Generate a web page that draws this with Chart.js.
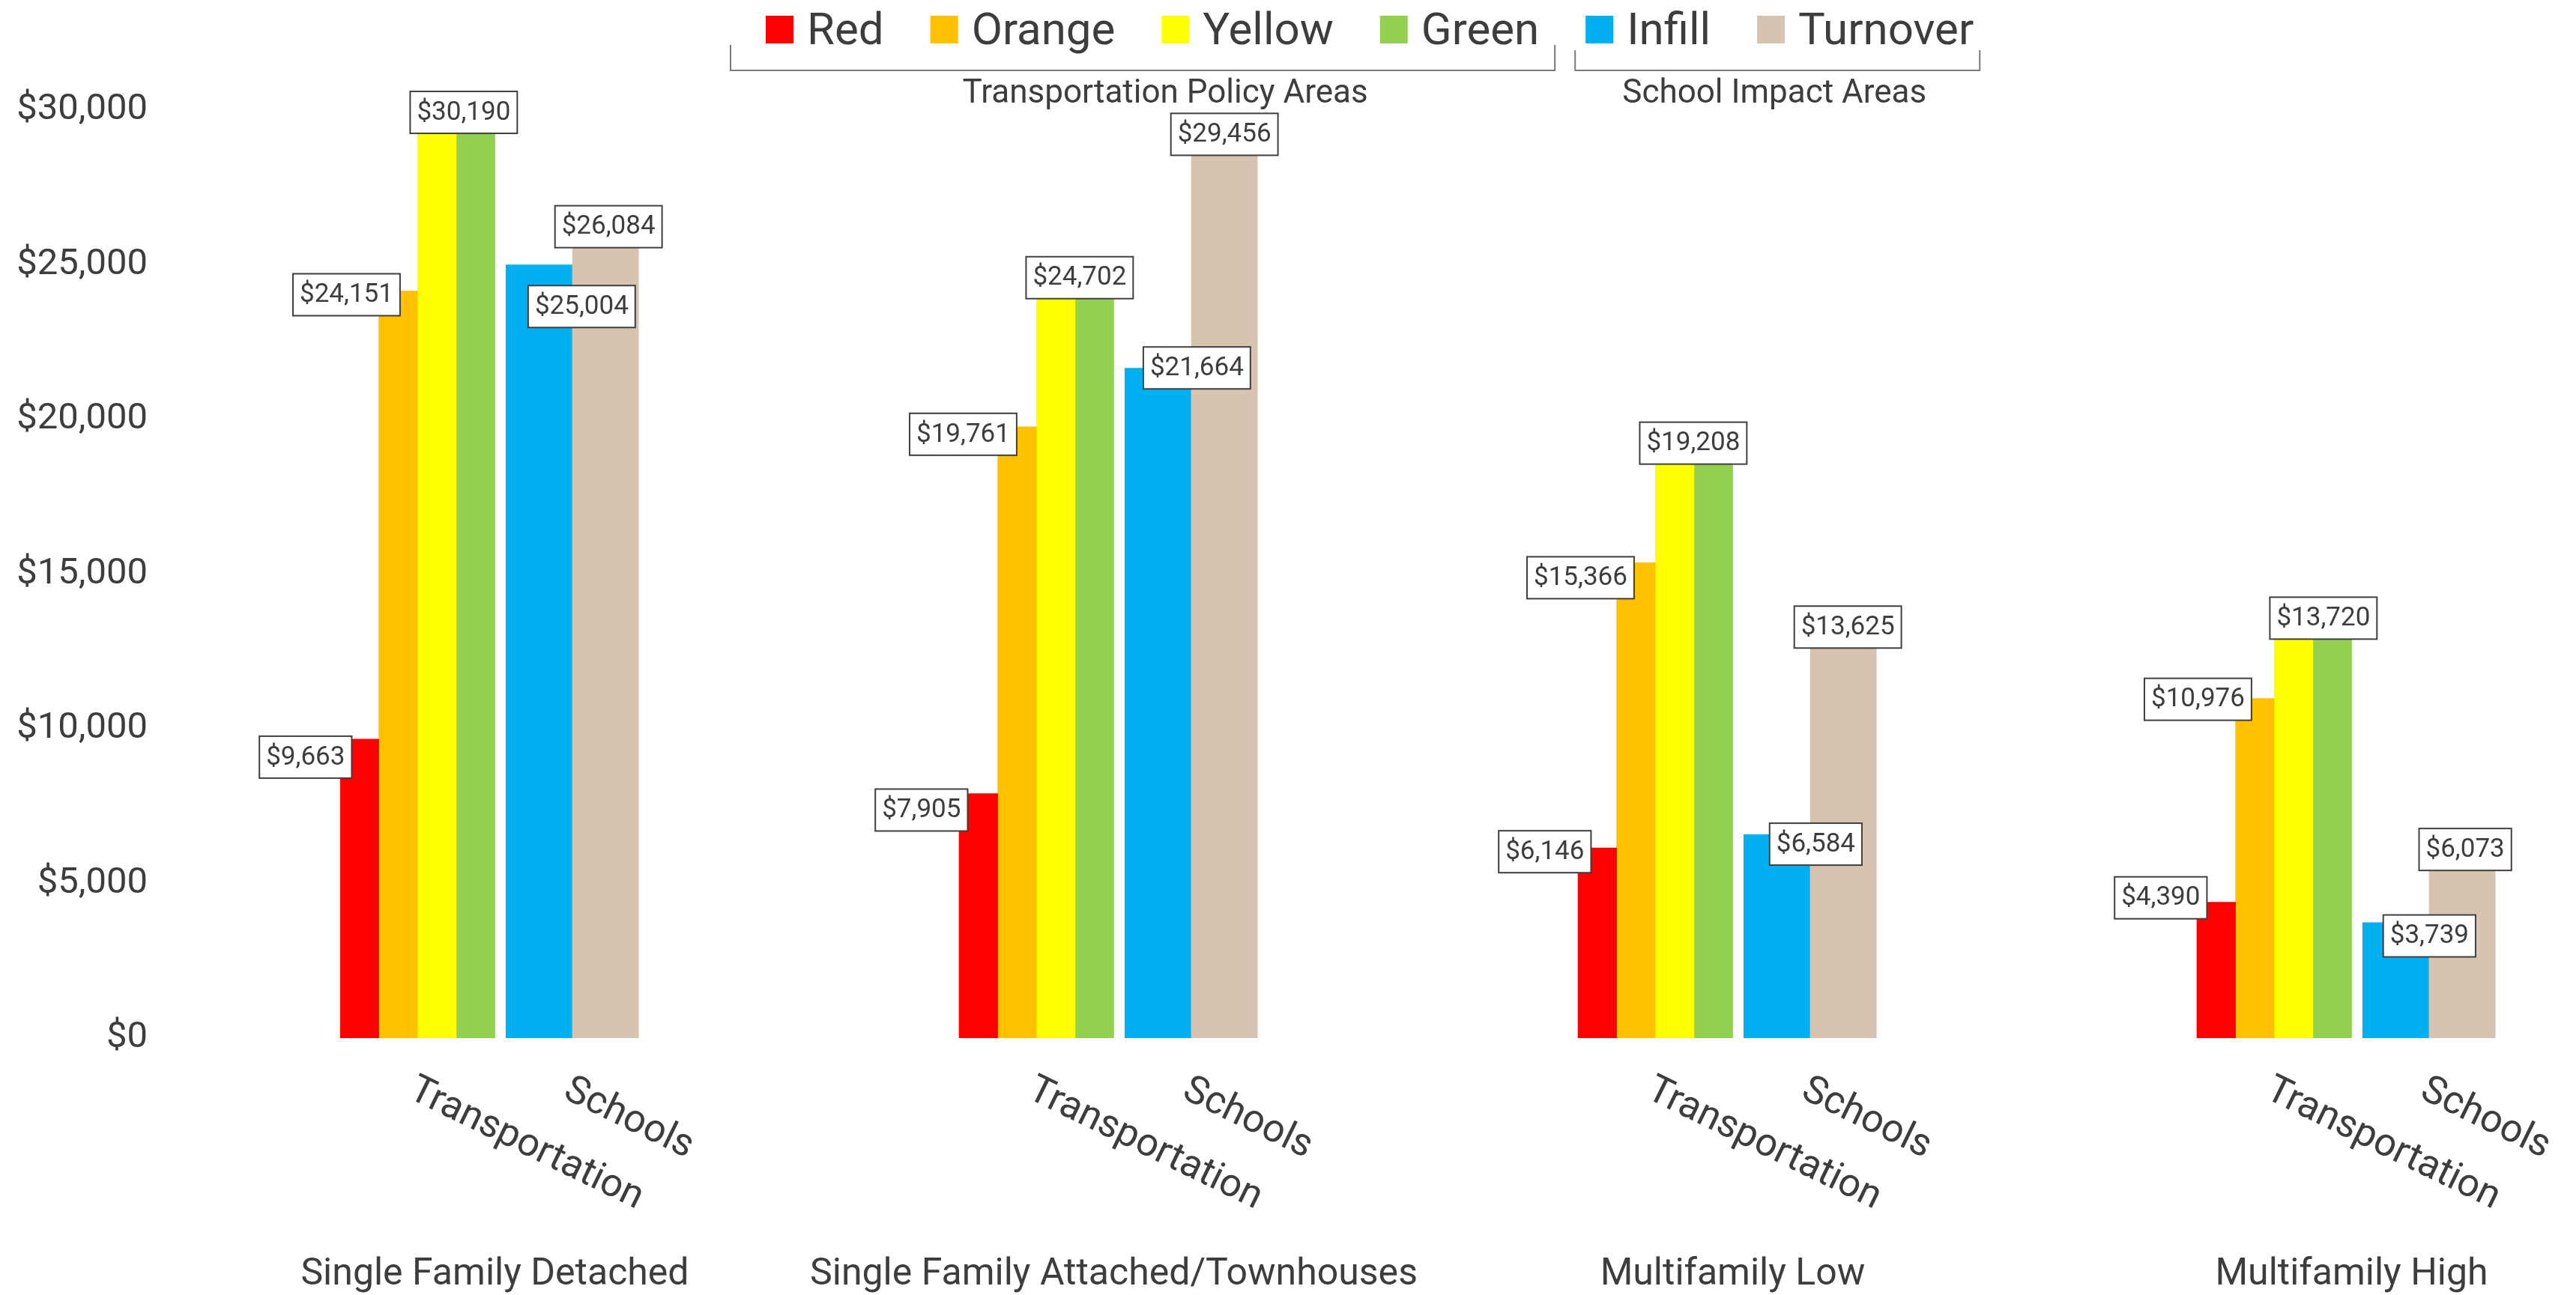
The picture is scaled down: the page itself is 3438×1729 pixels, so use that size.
<!DOCTYPE html>
<html>
<head>
<meta charset="utf-8">
<title>Impact Tax per Unit by Housing Type</title>
<script src="https://cdn.jsdelivr.net/npm/chart.js@4/dist/chart.umd.min.js"></script>
<style>
  html, body { margin: 0; padding: 0; background: #ffffff; }
  canvas { display: block; }
</style>
</head>
<body>
<canvas id="chart" width="3438" height="1729"></canvas>
<script>
// ---- Data -------------------------------------------------------------
// Outer categories (housing types) and the two tax components under each
const housingTypes = ['Single Family Detached', 'Single Family Attached/Townhouses', 'Multifamily Low', 'Multifamily High'];
const components = ['Transportation', 'Schools'];

// Transportation impact tax per unit, by transportation policy area
const red    = [9663, 7905, 6146, 4390];
const orange = [24151, 19761, 15366, 10976];
const yellow = [30190, 24702, 19208, 13720];
const green  = [30190, 24702, 19208, 13720];

// School impact tax per unit, by school impact area
const infill   = [25004, 21664, 6584, 3739];
const turnover = [26084, 29456, 13625, 6073];

// Value axis ticks
const yTickValues = [0, 5000, 10000, 15000, 20000, 25000, 30000];
const yAxisMax = 33000;

// ---- Styling ----------------------------------------------------------
const FONT = 'Roboto';
const TEXT = '#3d3d3d';
const LINE = '#7a7a7a';

// Each housing type takes four category slots: Transportation, Schools, then two empty slots as a gap
const SLOTS_PER_GROUP = 4;
const slotLabels = [];
housingTypes.forEach((h, k) => {
  slotLabels.push(components[0], components[1]);
  if (k < housingTypes.length - 1) slotLabels.push('', '');
});
function placeInSlots(values, slot) {
  const arr = new Array(slotLabels.length).fill(null);
  values.forEach((v, k) => { arr[k * SLOTS_PER_GROUP + slot] = v; });
  return arr;
}

const seriesDefs = [
  { label: 'Red',      values: red,      color: '#FF0000', slot: 0, pct: 1.0 },
  { label: 'Orange',   values: orange,   color: '#FFC000', slot: 0, pct: 1.0 },
  { label: 'Yellow',   values: yellow,   color: '#FFFF00', slot: 0, pct: 1.0 },
  { label: 'Green',    values: green,    color: '#92D050', slot: 0, pct: 1.0 },
  { label: 'Infill',   values: infill,   color: '#00B0F0', slot: 1, pct: 0.86 },
  { label: 'Turnover', values: turnover, color: '#D6C3B0', slot: 1, pct: 0.86 }
];

// Hand placement of the value boxes: [dx, dy] of the box centre from the bar's top-centre
const labelNudge = {
  red:      [[-72, 24], [-76, 22], [-70, 5], [-74, -6]],
  orange:   [[-69, 5], [-72, 10], [-74, 20], [-76, 1]],
  yg:       [[10, 11], [6, 5], [-1, -1], [14, 6]],
  infill:   [[57, 56], [52, 0], [52, 13], [45, 18]],
  turnover: [[4, -6], [0, 10], [6, 14], [4, -1]]
};

const money = v => '$' + v.toLocaleString('en-US');

// ---- Value boxes on the bars -------------------------------------------
const valueBoxes = {
  id: 'valueBoxes',
  afterDatasetsDraw(chart) {
    const ctx = chart.ctx;
    const bar = (ds, k, slot) => chart.getDatasetMeta(ds).data[k * SLOTS_PER_GROUP + slot];
    ctx.save();
    ctx.font = `35px ${FONT}`;
    ctx.textAlign = 'center';
    ctx.textBaseline = 'middle';
    housingTypes.forEach((h, k) => {
      const r = bar(0, k, 0), o = bar(1, k, 0), y = bar(2, k, 0), g = bar(3, k, 0);
      const inf = bar(4, k, 1), t = bar(5, k, 1);
      const items = [
        { x: r.x, y: r.y, text: money(red[k]), n: labelNudge.red[k] },
        { x: o.x, y: o.y, text: money(orange[k]), n: labelNudge.orange[k] },
        { x: (y.x + g.x) / 2, y: Math.min(y.y, g.y), text: money(yellow[k]), n: labelNudge.yg[k] },
        { x: t.x, y: t.y, text: money(turnover[k]), n: labelNudge.turnover[k] },
        { x: inf.x, y: inf.y, text: money(infill[k]), n: labelNudge.infill[k] }
      ];
      items.forEach(it => {
        const w = ctx.measureText(it.text).width + 18;
        const hgt = 56;
        const cx = it.x + it.n[0];
        const cy = it.y + it.n[1];
        ctx.fillStyle = '#ffffff';
        ctx.fillRect(cx - w / 2, cy - hgt / 2, w, hgt);
        ctx.strokeStyle = '#404040';
        ctx.lineWidth = 2;
        ctx.strokeRect(cx - w / 2, cy - hgt / 2, w, hgt);
        ctx.fillStyle = TEXT;
        ctx.fillText(it.text, cx, cy + 1);
      });
    });
    ctx.restore();
  }
};

// ---- Category labels: slanted component names and housing-type names ----
const categoryLabels = {
  id: 'categoryLabels',
  afterDraw(chart) {
    const ctx = chart.ctx;
    const xs = chart.scales.x;
    const bottom = chart.chartArea.bottom;
    const angle = 26 * Math.PI / 180;
    ctx.save();
    ctx.fillStyle = TEXT;
    housingTypes.forEach((h, k) => {
      const tX = xs.getPixelForValue(k * SLOTS_PER_GROUP);
      const sX = xs.getPixelForValue(k * SLOTS_PER_GROUP + 1);
      [[tX, components[0]], [sX, components[1]]].forEach(([px, txt]) => {
        ctx.save();
        ctx.translate(px + 3, bottom + 44);
        ctx.rotate(angle);
        ctx.font = `52px ${FONT}`;
        ctx.textAlign = 'left';
        ctx.textBaseline = 'top';
        ctx.fillText(txt, 0, 0);
        ctx.restore();
      });
      ctx.font = `50px ${FONT}`;
      ctx.textAlign = 'center';
      ctx.textBaseline = 'alphabetic';
      ctx.fillText(h, (tX + sX) / 2, bottom + 329);
    });
    ctx.restore();
  }
};

// ---- Legend with the two area brackets --------------------------------
const areaLegend = {
  id: 'areaLegend',
  afterDraw(chart) {
    const ctx = chart.ctx;
    const box = 37, gapText = 18, gapItem = 62;
    const boxTop = 21, textBase = 59;
    ctx.save();
    ctx.font = `60px ${FONT}`;
    ctx.textBaseline = 'alphabetic';
    ctx.textAlign = 'left';
    let x = 1022;
    const pos = [];
    seriesDefs.forEach(s => {
      const w = ctx.measureText(s.label).width;
      ctx.fillStyle = s.color;
      ctx.fillRect(x, boxTop, box, box);
      ctx.fillStyle = TEXT;
      ctx.fillText(s.label, x + box + gapText, textBase);
      pos.push({ start: x, end: x + box + gapText + w });
      x += box + gapText + w + gapItem;
    });

    const bracket = (l, r, top, bottomY) => {
      ctx.beginPath();
      ctx.moveTo(l, top);
      ctx.lineTo(l, bottomY);
      ctx.lineTo(r, bottomY);
      ctx.lineTo(r, top);
      ctx.stroke();
    };
    ctx.strokeStyle = LINE;
    ctx.lineWidth = 2;
    const b1l = pos[0].start - 47, b1r = pos[3].end + 21;
    const b2l = pos[4].start - 14, b2r = pos[5].end + 8;
    bracket(b1l, b1r, 60, 94);
    bracket(b2l, b2r, 67, 94);

    ctx.font = `44px ${FONT}`;
    ctx.textAlign = 'center';
    ctx.fillStyle = TEXT;
    ctx.fillText('Transportation Policy Areas', (b1l + b1r) / 2 + 30, 137);
    ctx.fillText('School Impact Areas', (b2l + b2r) / 2 - 4, 137);
    ctx.restore();
  }
};

// ---- Chart ------------------------------------------------------------
new Chart(document.getElementById('chart'), {
  type: 'bar',
  data: {
    labels: slotLabels,
    datasets: seriesDefs.map(s => ({
      label: s.label,
      data: placeInSlots(s.values, s.slot),
      backgroundColor: s.color,
      categoryPercentage: s.pct,
      barPercentage: 1.0,
      borderWidth: 0
    }))
  },
  options: {
    responsive: false,
    devicePixelRatio: 1,
    animation: false,
    events: [],
    layout: { padding: { top: 23, right: 93, left: 0, bottom: 0 } },
    datasets: { bar: { skipNull: true } },
    plugins: {
      legend: { display: false },
      tooltip: { enabled: false },
      title: { display: false }
    },
    scales: {
      x: {
        type: 'category',
        offset: true,
        grid: { display: false, drawTicks: false },
        border: { display: false },
        ticks: { display: false },
        afterFit(s) { s.height = 343; s.paddingLeft = 0; s.paddingRight = 0; }
      },
      y: {
        min: 0,
        max: yAxisMax,
        grid: { display: false, drawTicks: false },
        border: { display: false },
        ticks: {
          padding: 257,
          color: TEXT,
          font: { family: FONT, size: 49 },
          callback: v => money(v)
        },
        afterBuildTicks(s) { s.ticks = yTickValues.map(v => ({ value: v })); },
        afterFit(s) { s.width = 454; s.paddingTop = 0; s.paddingBottom = 0; }
      }
    }
  },
  plugins: [valueBoxes, categoryLabels, areaLegend]
});
</script>
</body>
</html>
